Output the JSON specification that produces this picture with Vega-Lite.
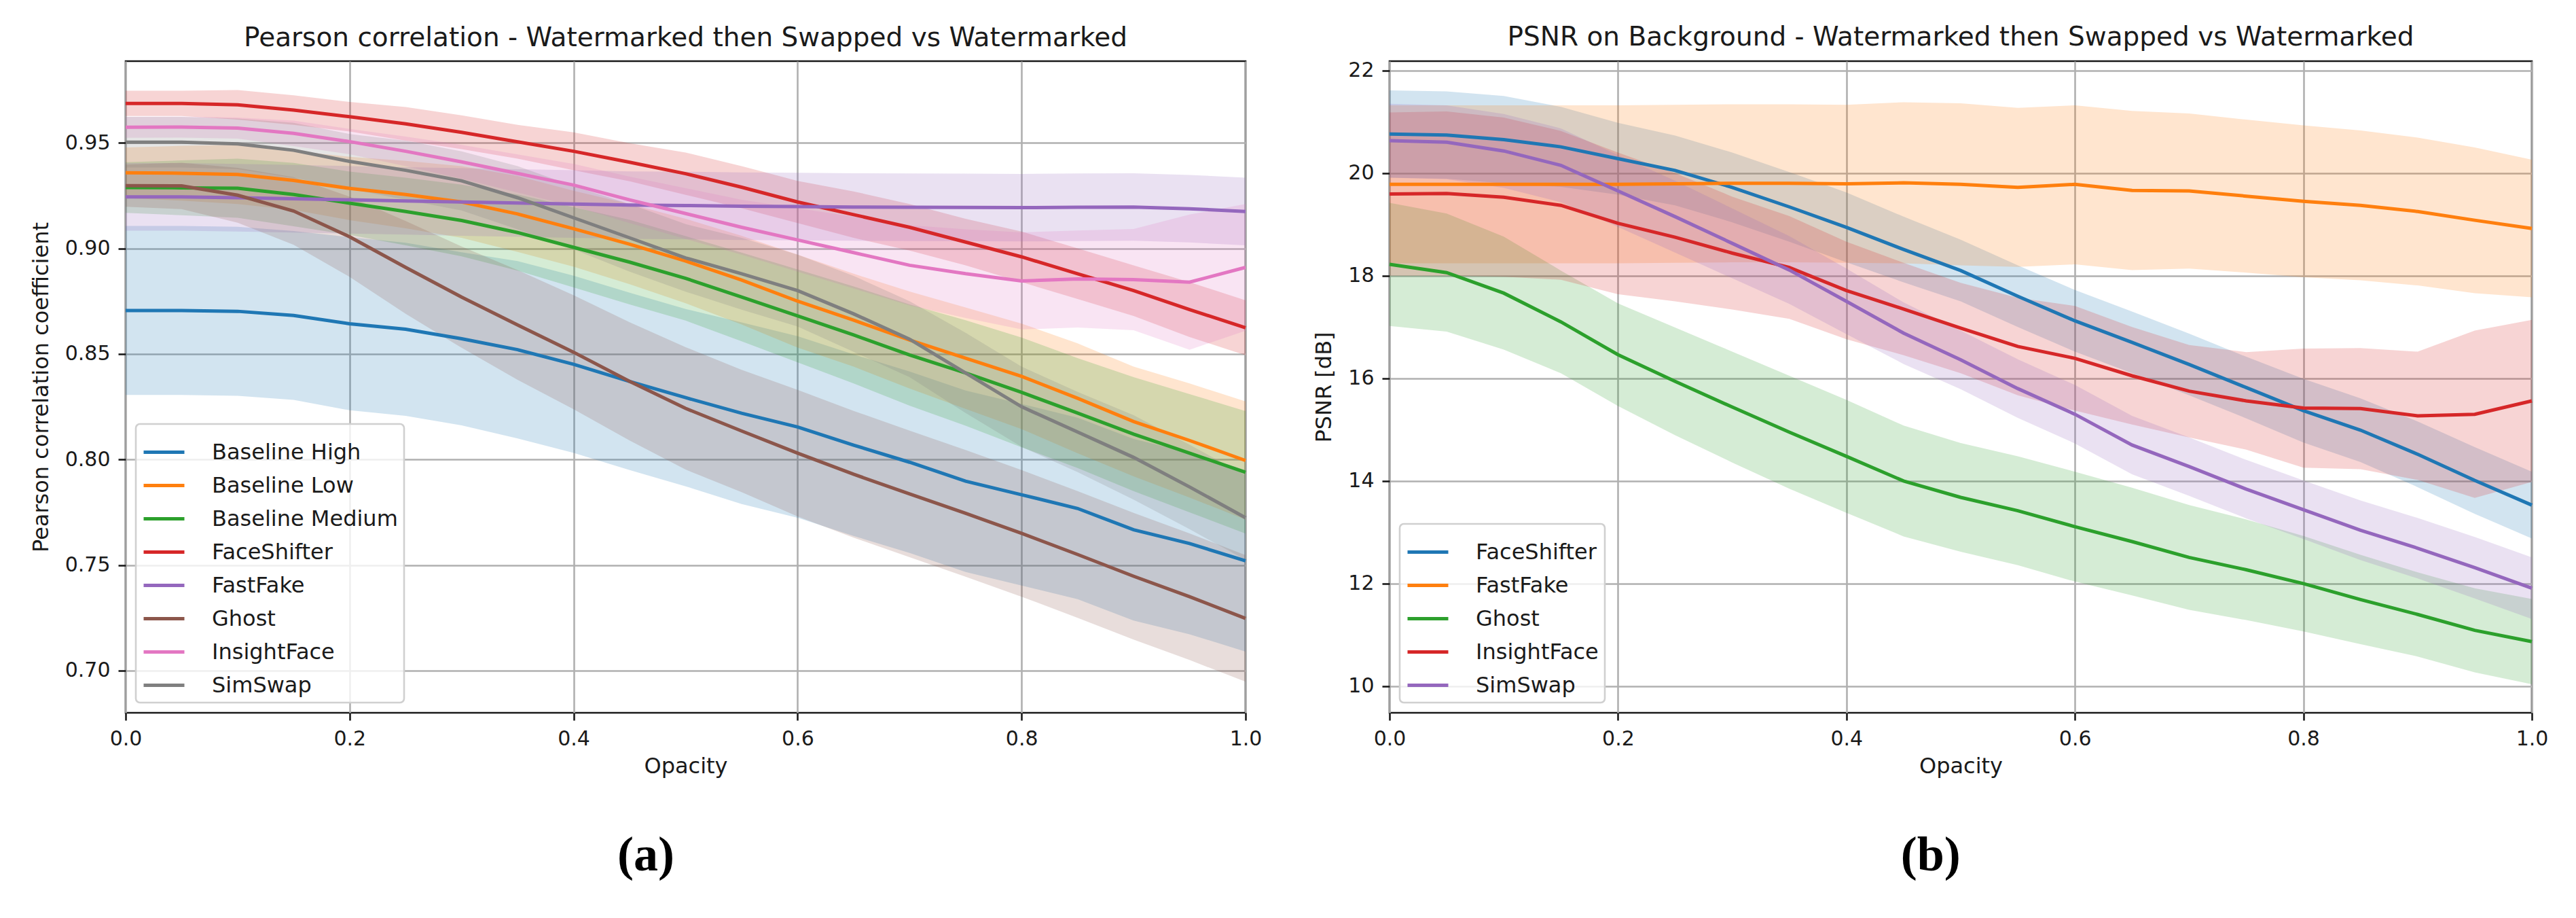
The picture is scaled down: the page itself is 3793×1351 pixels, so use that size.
{
  "$schema": "https://vega.github.io/schema/vega-lite/v6.json",
  "background": "white",
  "padding": {"left": 42, "top": 34, "right": 5, "bottom": 5},
  "spacing": 72,
  "config": {
    "font": "DejaVu Sans",
    "view": {"stroke": "#1a1a1a", "strokeWidth": 2.6},
    "axis": {
      "domain": false, "grid": true, "gridColor": "#b0b0b0", "gridWidth": 2.6,
      "tickColor": "#1a1a1a", "tickWidth": 2.6, "tickSize": 11,
      "labelFont": "DejaVu Sans", "labelFontSize": 30, "labelColor": "#1a1a1a", "labelPadding": 12,
      "labelFlush": false, "labelOverlap": false,
      "titleFont": "DejaVu Sans", "titleFontSize": 32, "titleFontWeight": "normal", "titleColor": "#1a1a1a"
    },
    "axisX": {"titlePadding": 10},
    "axisY": {"titlePadding": 18},
    "legend": {
      "orient": "bottom-left", "offset": 15,
      "fillColor": "rgba(255,255,255,0.8)", "strokeColor": "#d0d0d0", "strokeWidth": 2.6, "cornerRadius": 6,
      "padding": 9, "symbolType": "stroke", "symbolStrokeWidth": 5, "symbolSize": 3600, "symbolOpacity": 1,
      "labelFont": "DejaVu Sans", "labelFontSize": 32, "labelColor": "#1a1a1a", "labelOffset": 38, "labelLimit": 0,
      "rowPadding": -11
    }
  },
  "datasets": {
    "pearson": [
      {"s":"Baseline High","x":0,"y":0.8706,"lo":0.8306,"hi":0.9106},
      {"s":"Baseline High","x":0.05,"y":0.8706,"lo":0.8306,"hi":0.9106},
      {"s":"Baseline High","x":0.1,"y":0.8702,"lo":0.8302,"hi":0.9102},
      {"s":"Baseline High","x":0.15,"y":0.8682,"lo":0.8282,"hi":0.9082},
      {"s":"Baseline High","x":0.2,"y":0.8643,"lo":0.8233,"hi":0.9053},
      {"s":"Baseline High","x":0.25,"y":0.8617,"lo":0.8207,"hi":0.9027},
      {"s":"Baseline High","x":0.3,"y":0.8572,"lo":0.8162,"hi":0.8982},
      {"s":"Baseline High","x":0.35,"y":0.852,"lo":0.81,"hi":0.894},
      {"s":"Baseline High","x":0.4,"y":0.8451,"lo":0.8031,"hi":0.8871},
      {"s":"Baseline High","x":0.45,"y":0.837,"lo":0.795,"hi":0.879},
      {"s":"Baseline High","x":0.5,"y":0.8293,"lo":0.7873,"hi":0.8713},
      {"s":"Baseline High","x":0.55,"y":0.8219,"lo":0.7789,"hi":0.8649},
      {"s":"Baseline High","x":0.6,"y":0.8154,"lo":0.7724,"hi":0.8584},
      {"s":"Baseline High","x":0.65,"y":0.8068,"lo":0.7638,"hi":0.8498},
      {"s":"Baseline High","x":0.7,"y":0.7987,"lo":0.7557,"hi":0.8417},
      {"s":"Baseline High","x":0.75,"y":0.7897,"lo":0.7467,"hi":0.8327},
      {"s":"Baseline High","x":0.8,"y":0.7833,"lo":0.7403,"hi":0.8263},
      {"s":"Baseline High","x":0.85,"y":0.7768,"lo":0.7338,"hi":0.8198},
      {"s":"Baseline High","x":0.9,"y":0.7667,"lo":0.7237,"hi":0.8097},
      {"s":"Baseline High","x":0.95,"y":0.7602,"lo":0.7172,"hi":0.8032},
      {"s":"Baseline High","x":1,"y":0.752,"lo":0.709,"hi":0.795},

      {"s":"Baseline Low","x":0,"y":0.9358,"lo":0.9238,"hi":0.9478},
      {"s":"Baseline Low","x":0.05,"y":0.9356,"lo":0.9226,"hi":0.9486},
      {"s":"Baseline Low","x":0.1,"y":0.935,"lo":0.921,"hi":0.949},
      {"s":"Baseline Low","x":0.15,"y":0.9322,"lo":0.9182,"hi":0.9462},
      {"s":"Baseline Low","x":0.2,"y":0.9284,"lo":0.9134,"hi":0.9434},
      {"s":"Baseline Low","x":0.25,"y":0.9255,"lo":0.9095,"hi":0.9415},
      {"s":"Baseline Low","x":0.3,"y":0.922,"lo":0.905,"hi":0.939},
      {"s":"Baseline Low","x":0.35,"y":0.9163,"lo":0.8983,"hi":0.9343},
      {"s":"Baseline Low","x":0.4,"y":0.9093,"lo":0.8913,"hi":0.9273},
      {"s":"Baseline Low","x":0.45,"y":0.902,"lo":0.883,"hi":0.921},
      {"s":"Baseline Low","x":0.5,"y":0.894,"lo":0.874,"hi":0.914},
      {"s":"Baseline Low","x":0.55,"y":0.885,"lo":0.864,"hi":0.906},
      {"s":"Baseline Low","x":0.6,"y":0.875,"lo":0.853,"hi":0.897},
      {"s":"Baseline Low","x":0.65,"y":0.866,"lo":0.844,"hi":0.888},
      {"s":"Baseline Low","x":0.7,"y":0.8566,"lo":0.8336,"hi":0.8796},
      {"s":"Baseline Low","x":0.75,"y":0.848,"lo":0.824,"hi":0.872},
      {"s":"Baseline Low","x":0.8,"y":0.8394,"lo":0.8144,"hi":0.8644},
      {"s":"Baseline Low","x":0.85,"y":0.829,"lo":0.803,"hi":0.855},
      {"s":"Baseline Low","x":0.9,"y":0.818,"lo":0.792,"hi":0.844},
      {"s":"Baseline Low","x":0.95,"y":0.809,"lo":0.782,"hi":0.836},
      {"s":"Baseline Low","x":1,"y":0.7995,"lo":0.7715,"hi":0.8275},

      {"s":"Baseline Medium","x":0,"y":0.9288,"lo":0.9168,"hi":0.9408},
      {"s":"Baseline Medium","x":0.05,"y":0.9287,"lo":0.9157,"hi":0.9417},
      {"s":"Baseline Medium","x":0.1,"y":0.9285,"lo":0.9145,"hi":0.9425},
      {"s":"Baseline Medium","x":0.15,"y":0.9255,"lo":0.9105,"hi":0.9405},
      {"s":"Baseline Medium","x":0.2,"y":0.9214,"lo":0.9064,"hi":0.9364},
      {"s":"Baseline Medium","x":0.25,"y":0.9175,"lo":0.9015,"hi":0.9335},
      {"s":"Baseline Medium","x":0.3,"y":0.9132,"lo":0.8962,"hi":0.9302},
      {"s":"Baseline Medium","x":0.35,"y":0.9075,"lo":0.8895,"hi":0.9255},
      {"s":"Baseline Medium","x":0.4,"y":0.9005,"lo":0.8815,"hi":0.9195},
      {"s":"Baseline Medium","x":0.45,"y":0.8935,"lo":0.8735,"hi":0.9135},
      {"s":"Baseline Medium","x":0.5,"y":0.8858,"lo":0.8658,"hi":0.9058},
      {"s":"Baseline Medium","x":0.55,"y":0.877,"lo":0.856,"hi":0.898},
      {"s":"Baseline Medium","x":0.6,"y":0.868,"lo":0.846,"hi":0.89},
      {"s":"Baseline Medium","x":0.65,"y":0.859,"lo":0.836,"hi":0.882},
      {"s":"Baseline Medium","x":0.7,"y":0.8495,"lo":0.8255,"hi":0.8735},
      {"s":"Baseline Medium","x":0.75,"y":0.841,"lo":0.816,"hi":0.866},
      {"s":"Baseline Medium","x":0.8,"y":0.8318,"lo":0.8058,"hi":0.8578},
      {"s":"Baseline Medium","x":0.85,"y":0.822,"lo":0.796,"hi":0.848},
      {"s":"Baseline Medium","x":0.9,"y":0.812,"lo":0.785,"hi":0.839},
      {"s":"Baseline Medium","x":0.95,"y":0.803,"lo":0.775,"hi":0.831},
      {"s":"Baseline Medium","x":1,"y":0.7939,"lo":0.7649,"hi":0.8229},

      {"s":"FaceShifter","x":0,"y":0.9687,"lo":0.9627,"hi":0.9747},
      {"s":"FaceShifter","x":0.05,"y":0.9687,"lo":0.9627,"hi":0.9747},
      {"s":"FaceShifter","x":0.1,"y":0.968,"lo":0.961,"hi":0.975},
      {"s":"FaceShifter","x":0.15,"y":0.9655,"lo":0.9585,"hi":0.9725},
      {"s":"FaceShifter","x":0.2,"y":0.9624,"lo":0.9554,"hi":0.9694},
      {"s":"FaceShifter","x":0.25,"y":0.959,"lo":0.951,"hi":0.967},
      {"s":"FaceShifter","x":0.3,"y":0.955,"lo":0.947,"hi":0.963},
      {"s":"FaceShifter","x":0.35,"y":0.9505,"lo":0.9425,"hi":0.9585},
      {"s":"FaceShifter","x":0.4,"y":0.946,"lo":0.937,"hi":0.955},
      {"s":"FaceShifter","x":0.45,"y":0.9408,"lo":0.9318,"hi":0.9498},
      {"s":"FaceShifter","x":0.5,"y":0.9354,"lo":0.9254,"hi":0.9454},
      {"s":"FaceShifter","x":0.55,"y":0.929,"lo":0.919,"hi":0.939},
      {"s":"FaceShifter","x":0.6,"y":0.922,"lo":0.912,"hi":0.932},
      {"s":"FaceShifter","x":0.65,"y":0.916,"lo":0.905,"hi":0.927},
      {"s":"FaceShifter","x":0.7,"y":0.91,"lo":0.899,"hi":0.921},
      {"s":"FaceShifter","x":0.75,"y":0.903,"lo":0.892,"hi":0.914},
      {"s":"FaceShifter","x":0.8,"y":0.896,"lo":0.884,"hi":0.908},
      {"s":"FaceShifter","x":0.85,"y":0.888,"lo":0.876,"hi":0.9},
      {"s":"FaceShifter","x":0.9,"y":0.88,"lo":0.868,"hi":0.892},
      {"s":"FaceShifter","x":0.95,"y":0.871,"lo":0.858,"hi":0.884},
      {"s":"FaceShifter","x":1,"y":0.8624,"lo":0.8494,"hi":0.8754},

      {"s":"FastFake","x":0,"y":0.9244,"lo":0.9084,"hi":0.9404},
      {"s":"FastFake","x":0.05,"y":0.9244,"lo":0.9084,"hi":0.9404},
      {"s":"FastFake","x":0.1,"y":0.924,"lo":0.908,"hi":0.94},
      {"s":"FastFake","x":0.15,"y":0.9235,"lo":0.9075,"hi":0.9395},
      {"s":"FastFake","x":0.2,"y":0.923,"lo":0.907,"hi":0.939},
      {"s":"FastFake","x":0.25,"y":0.9225,"lo":0.9065,"hi":0.9385},
      {"s":"FastFake","x":0.3,"y":0.922,"lo":0.906,"hi":0.938},
      {"s":"FastFake","x":0.35,"y":0.9215,"lo":0.9055,"hi":0.9375},
      {"s":"FastFake","x":0.4,"y":0.921,"lo":0.905,"hi":0.937},
      {"s":"FastFake","x":0.45,"y":0.9205,"lo":0.9045,"hi":0.9365},
      {"s":"FastFake","x":0.5,"y":0.9203,"lo":0.9043,"hi":0.9363},
      {"s":"FastFake","x":0.55,"y":0.92,"lo":0.904,"hi":0.936},
      {"s":"FastFake","x":0.6,"y":0.9198,"lo":0.9038,"hi":0.9358},
      {"s":"FastFake","x":0.65,"y":0.9196,"lo":0.9036,"hi":0.9356},
      {"s":"FastFake","x":0.7,"y":0.9195,"lo":0.9035,"hi":0.9355},
      {"s":"FastFake","x":0.75,"y":0.9194,"lo":0.9034,"hi":0.9354},
      {"s":"FastFake","x":0.8,"y":0.9193,"lo":0.9033,"hi":0.9353},
      {"s":"FastFake","x":0.85,"y":0.9195,"lo":0.9035,"hi":0.9355},
      {"s":"FastFake","x":0.9,"y":0.9196,"lo":0.9036,"hi":0.9356},
      {"s":"FastFake","x":0.95,"y":0.9188,"lo":0.9028,"hi":0.9348},
      {"s":"FastFake","x":1,"y":0.9175,"lo":0.9015,"hi":0.9335},

      {"s":"Ghost","x":0,"y":0.9297,"lo":0.9197,"hi":0.9397},
      {"s":"Ghost","x":0.05,"y":0.9296,"lo":0.9186,"hi":0.9406},
      {"s":"Ghost","x":0.1,"y":0.9252,"lo":0.9122,"hi":0.9382},
      {"s":"Ghost","x":0.15,"y":0.9177,"lo":0.9017,"hi":0.9337},
      {"s":"Ghost","x":0.2,"y":0.9055,"lo":0.8865,"hi":0.9245},
      {"s":"Ghost","x":0.25,"y":0.891,"lo":0.869,"hi":0.913},
      {"s":"Ghost","x":0.3,"y":0.8769,"lo":0.8529,"hi":0.9009},
      {"s":"Ghost","x":0.35,"y":0.8637,"lo":0.8377,"hi":0.8897},
      {"s":"Ghost","x":0.4,"y":0.8508,"lo":0.8238,"hi":0.8778},
      {"s":"Ghost","x":0.45,"y":0.837,"lo":0.809,"hi":0.865},
      {"s":"Ghost","x":0.5,"y":0.8242,"lo":0.7952,"hi":0.8532},
      {"s":"Ghost","x":0.55,"y":0.8135,"lo":0.7845,"hi":0.8425},
      {"s":"Ghost","x":0.6,"y":0.803,"lo":0.773,"hi":0.833},
      {"s":"Ghost","x":0.65,"y":0.793,"lo":0.763,"hi":0.823},
      {"s":"Ghost","x":0.7,"y":0.7837,"lo":0.7537,"hi":0.8137},
      {"s":"Ghost","x":0.75,"y":0.7745,"lo":0.7445,"hi":0.8045},
      {"s":"Ghost","x":0.8,"y":0.765,"lo":0.735,"hi":0.795},
      {"s":"Ghost","x":0.85,"y":0.755,"lo":0.725,"hi":0.785},
      {"s":"Ghost","x":0.9,"y":0.7447,"lo":0.7147,"hi":0.7747},
      {"s":"Ghost","x":0.95,"y":0.735,"lo":0.705,"hi":0.765},
      {"s":"Ghost","x":1,"y":0.7247,"lo":0.6947,"hi":0.7547},

      {"s":"InsightFace","x":0,"y":0.9574,"lo":0.9524,"hi":0.9624},
      {"s":"InsightFace","x":0.05,"y":0.9575,"lo":0.9525,"hi":0.9625},
      {"s":"InsightFace","x":0.1,"y":0.957,"lo":0.952,"hi":0.962},
      {"s":"InsightFace","x":0.15,"y":0.9545,"lo":0.9485,"hi":0.9605},
      {"s":"InsightFace","x":0.2,"y":0.9506,"lo":0.9446,"hi":0.9566},
      {"s":"InsightFace","x":0.25,"y":0.946,"lo":0.939,"hi":0.953},
      {"s":"InsightFace","x":0.3,"y":0.941,"lo":0.933,"hi":0.949},
      {"s":"InsightFace","x":0.35,"y":0.9355,"lo":0.9265,"hi":0.9445},
      {"s":"InsightFace","x":0.4,"y":0.93,"lo":0.92,"hi":0.94},
      {"s":"InsightFace","x":0.45,"y":0.923,"lo":0.912,"hi":0.934},
      {"s":"InsightFace","x":0.5,"y":0.9165,"lo":0.9045,"hi":0.9285},
      {"s":"InsightFace","x":0.55,"y":0.91,"lo":0.897,"hi":0.923},
      {"s":"InsightFace","x":0.6,"y":0.904,"lo":0.889,"hi":0.919},
      {"s":"InsightFace","x":0.65,"y":0.898,"lo":0.881,"hi":0.915},
      {"s":"InsightFace","x":0.7,"y":0.892,"lo":0.873,"hi":0.911},
      {"s":"InsightFace","x":0.75,"y":0.888,"lo":0.867,"hi":0.909},
      {"s":"InsightFace","x":0.8,"y":0.8846,"lo":0.8616,"hi":0.9076},
      {"s":"InsightFace","x":0.85,"y":0.8855,"lo":0.8625,"hi":0.9085},
      {"s":"InsightFace","x":0.9,"y":0.8852,"lo":0.8612,"hi":0.9092},
      {"s":"InsightFace","x":0.95,"y":0.884,"lo":0.852,"hi":0.916},
      {"s":"InsightFace","x":1,"y":0.891,"lo":0.861,"hi":0.921},

      {"s":"SimSwap","x":0,"y":0.9503,"lo":0.9383,"hi":0.9623},
      {"s":"SimSwap","x":0.05,"y":0.9503,"lo":0.9383,"hi":0.9623},
      {"s":"SimSwap","x":0.1,"y":0.9495,"lo":0.9375,"hi":0.9615},
      {"s":"SimSwap","x":0.15,"y":0.9465,"lo":0.9335,"hi":0.9595},
      {"s":"SimSwap","x":0.2,"y":0.9412,"lo":0.9282,"hi":0.9542},
      {"s":"SimSwap","x":0.25,"y":0.937,"lo":0.923,"hi":0.951},
      {"s":"SimSwap","x":0.3,"y":0.932,"lo":0.918,"hi":0.946},
      {"s":"SimSwap","x":0.35,"y":0.924,"lo":0.909,"hi":0.939},
      {"s":"SimSwap","x":0.4,"y":0.9145,"lo":0.8995,"hi":0.9295},
      {"s":"SimSwap","x":0.45,"y":0.905,"lo":0.889,"hi":0.921},
      {"s":"SimSwap","x":0.5,"y":0.8955,"lo":0.8795,"hi":0.9115},
      {"s":"SimSwap","x":0.55,"y":0.888,"lo":0.871,"hi":0.905},
      {"s":"SimSwap","x":0.6,"y":0.88,"lo":0.863,"hi":0.897},
      {"s":"SimSwap","x":0.65,"y":0.869,"lo":0.851,"hi":0.887},
      {"s":"SimSwap","x":0.7,"y":0.857,"lo":0.839,"hi":0.875},
      {"s":"SimSwap","x":0.75,"y":0.841,"lo":0.822,"hi":0.86},
      {"s":"SimSwap","x":0.8,"y":0.825,"lo":0.806,"hi":0.844},
      {"s":"SimSwap","x":0.85,"y":0.813,"lo":0.794,"hi":0.832},
      {"s":"SimSwap","x":0.9,"y":0.801,"lo":0.781,"hi":0.821},
      {"s":"SimSwap","x":0.95,"y":0.787,"lo":0.767,"hi":0.807},
      {"s":"SimSwap","x":1,"y":0.7724,"lo":0.7524,"hi":0.7924}
    ],
    "psnr": [
      {"s":"FaceShifter","x":0,"y":20.76,"lo":19.91,"hi":21.61},
      {"s":"FaceShifter","x":0.05,"y":20.74,"lo":19.89,"hi":21.59},
      {"s":"FaceShifter","x":0.1,"y":20.65,"lo":19.8,"hi":21.5},
      {"s":"FaceShifter","x":0.15,"y":20.51,"lo":19.73,"hi":21.29},
      {"s":"FaceShifter","x":0.2,"y":20.28,"lo":19.58,"hi":20.98},
      {"s":"FaceShifter","x":0.25,"y":20.05,"lo":19.37,"hi":20.73},
      {"s":"FaceShifter","x":0.3,"y":19.72,"lo":19.04,"hi":20.4},
      {"s":"FaceShifter","x":0.35,"y":19.34,"lo":18.66,"hi":20.02},
      {"s":"FaceShifter","x":0.4,"y":18.94,"lo":18.26,"hi":19.62},
      {"s":"FaceShifter","x":0.45,"y":18.51,"lo":17.87,"hi":19.15},
      {"s":"FaceShifter","x":0.5,"y":18.1,"lo":17.5,"hi":18.7},
      {"s":"FaceShifter","x":0.55,"y":17.6,"lo":17.0,"hi":18.2},
      {"s":"FaceShifter","x":0.6,"y":17.12,"lo":16.52,"hi":17.72},
      {"s":"FaceShifter","x":0.65,"y":16.7,"lo":16.1,"hi":17.3},
      {"s":"FaceShifter","x":0.7,"y":16.27,"lo":15.67,"hi":16.87},
      {"s":"FaceShifter","x":0.75,"y":15.82,"lo":15.22,"hi":16.42},
      {"s":"FaceShifter","x":0.8,"y":15.37,"lo":14.75,"hi":15.99},
      {"s":"FaceShifter","x":0.85,"y":14.99,"lo":14.37,"hi":15.61},
      {"s":"FaceShifter","x":0.9,"y":14.52,"lo":13.88,"hi":15.16},
      {"s":"FaceShifter","x":0.95,"y":14.01,"lo":13.36,"hi":14.66},
      {"s":"FaceShifter","x":1,"y":13.53,"lo":12.88,"hi":14.18},

      {"s":"FastFake","x":0,"y":19.78,"lo":18.24,"hi":21.32},
      {"s":"FastFake","x":0.05,"y":19.78,"lo":18.24,"hi":21.32},
      {"s":"FastFake","x":0.1,"y":19.78,"lo":18.24,"hi":21.32},
      {"s":"FastFake","x":0.15,"y":19.78,"lo":18.24,"hi":21.32},
      {"s":"FastFake","x":0.2,"y":19.78,"lo":18.24,"hi":21.32},
      {"s":"FastFake","x":0.25,"y":19.79,"lo":18.25,"hi":21.33},
      {"s":"FastFake","x":0.3,"y":19.8,"lo":18.26,"hi":21.34},
      {"s":"FastFake","x":0.35,"y":19.8,"lo":18.26,"hi":21.34},
      {"s":"FastFake","x":0.4,"y":19.79,"lo":18.25,"hi":21.33},
      {"s":"FastFake","x":0.45,"y":19.81,"lo":18.24,"hi":21.38},
      {"s":"FastFake","x":0.5,"y":19.78,"lo":18.2,"hi":21.36},
      {"s":"FastFake","x":0.55,"y":19.72,"lo":18.17,"hi":21.27},
      {"s":"FastFake","x":0.6,"y":19.78,"lo":18.22,"hi":21.32},
      {"s":"FastFake","x":0.65,"y":19.66,"lo":18.11,"hi":21.21},
      {"s":"FastFake","x":0.7,"y":19.65,"lo":18.14,"hi":21.16},
      {"s":"FastFake","x":0.75,"y":19.55,"lo":18.06,"hi":21.04},
      {"s":"FastFake","x":0.8,"y":19.45,"lo":17.97,"hi":20.93},
      {"s":"FastFake","x":0.85,"y":19.37,"lo":17.91,"hi":20.83},
      {"s":"FastFake","x":0.9,"y":19.25,"lo":17.81,"hi":20.69},
      {"s":"FastFake","x":0.95,"y":19.08,"lo":17.66,"hi":20.5},
      {"s":"FastFake","x":1,"y":18.92,"lo":17.58,"hi":20.26},

      {"s":"Ghost","x":0,"y":18.22,"lo":17.02,"hi":19.42},
      {"s":"Ghost","x":0.05,"y":18.06,"lo":16.91,"hi":19.21},
      {"s":"Ghost","x":0.1,"y":17.66,"lo":16.56,"hi":18.76},
      {"s":"Ghost","x":0.15,"y":17.1,"lo":16.1,"hi":18.1},
      {"s":"Ghost","x":0.2,"y":16.46,"lo":15.46,"hi":17.46},
      {"s":"Ghost","x":0.25,"y":15.94,"lo":14.89,"hi":16.99},
      {"s":"Ghost","x":0.3,"y":15.44,"lo":14.36,"hi":16.52},
      {"s":"Ghost","x":0.35,"y":14.95,"lo":13.85,"hi":16.05},
      {"s":"Ghost","x":0.4,"y":14.48,"lo":13.38,"hi":15.58},
      {"s":"Ghost","x":0.45,"y":14.0,"lo":12.92,"hi":15.08},
      {"s":"Ghost","x":0.5,"y":13.68,"lo":12.62,"hi":14.74},
      {"s":"Ghost","x":0.55,"y":13.42,"lo":12.36,"hi":14.48},
      {"s":"Ghost","x":0.6,"y":13.11,"lo":12.04,"hi":14.18},
      {"s":"Ghost","x":0.65,"y":12.82,"lo":11.77,"hi":13.87},
      {"s":"Ghost","x":0.7,"y":12.51,"lo":11.49,"hi":13.53},
      {"s":"Ghost","x":0.75,"y":12.27,"lo":11.29,"hi":13.25},
      {"s":"Ghost","x":0.8,"y":12.0,"lo":11.07,"hi":12.93},
      {"s":"Ghost","x":0.85,"y":11.69,"lo":10.82,"hi":12.56},
      {"s":"Ghost","x":0.9,"y":11.4,"lo":10.58,"hi":12.22},
      {"s":"Ghost","x":0.95,"y":11.09,"lo":10.27,"hi":11.91},
      {"s":"Ghost","x":1,"y":10.87,"lo":10.04,"hi":11.7},

      {"s":"InsightFace","x":0,"y":19.59,"lo":18.0,"hi":21.18},
      {"s":"InsightFace","x":0.05,"y":19.6,"lo":18.0,"hi":21.2},
      {"s":"InsightFace","x":0.1,"y":19.53,"lo":17.98,"hi":21.08},
      {"s":"InsightFace","x":0.15,"y":19.37,"lo":17.92,"hi":20.82},
      {"s":"InsightFace","x":0.2,"y":19.02,"lo":17.64,"hi":20.4},
      {"s":"InsightFace","x":0.25,"y":18.75,"lo":17.5,"hi":20.0},
      {"s":"InsightFace","x":0.3,"y":18.44,"lo":17.34,"hi":19.54},
      {"s":"InsightFace","x":0.35,"y":18.16,"lo":17.16,"hi":19.16},
      {"s":"InsightFace","x":0.4,"y":17.71,"lo":16.76,"hi":18.66},
      {"s":"InsightFace","x":0.45,"y":17.35,"lo":16.45,"hi":18.25},
      {"s":"InsightFace","x":0.5,"y":16.98,"lo":16.1,"hi":17.86},
      {"s":"InsightFace","x":0.55,"y":16.62,"lo":15.67,"hi":17.57},
      {"s":"InsightFace","x":0.6,"y":16.39,"lo":15.37,"hi":17.41},
      {"s":"InsightFace","x":0.65,"y":16.05,"lo":15.1,"hi":17.0},
      {"s":"InsightFace","x":0.7,"y":15.75,"lo":14.85,"hi":16.65},
      {"s":"InsightFace","x":0.75,"y":15.56,"lo":14.61,"hi":16.51},
      {"s":"InsightFace","x":0.8,"y":15.42,"lo":14.26,"hi":16.58},
      {"s":"InsightFace","x":0.85,"y":15.41,"lo":14.23,"hi":16.59},
      {"s":"InsightFace","x":0.9,"y":15.27,"lo":14.02,"hi":16.52},
      {"s":"InsightFace","x":0.95,"y":15.3,"lo":13.67,"hi":16.93},
      {"s":"InsightFace","x":1,"y":15.56,"lo":13.98,"hi":17.14},

      {"s":"SimSwap","x":0,"y":20.63,"lo":19.91,"hi":21.35},
      {"s":"SimSwap","x":0.05,"y":20.6,"lo":19.88,"hi":21.32},
      {"s":"SimSwap","x":0.1,"y":20.43,"lo":19.71,"hi":21.15},
      {"s":"SimSwap","x":0.15,"y":20.15,"lo":19.43,"hi":20.87},
      {"s":"SimSwap","x":0.2,"y":19.65,"lo":18.95,"hi":20.35},
      {"s":"SimSwap","x":0.25,"y":19.15,"lo":18.45,"hi":19.85},
      {"s":"SimSwap","x":0.3,"y":18.63,"lo":17.95,"hi":19.31},
      {"s":"SimSwap","x":0.35,"y":18.11,"lo":17.45,"hi":18.77},
      {"s":"SimSwap","x":0.4,"y":17.5,"lo":16.86,"hi":18.14},
      {"s":"SimSwap","x":0.45,"y":16.88,"lo":16.28,"hi":17.48},
      {"s":"SimSwap","x":0.5,"y":16.36,"lo":15.79,"hi":16.93},
      {"s":"SimSwap","x":0.55,"y":15.8,"lo":15.23,"hi":16.37},
      {"s":"SimSwap","x":0.6,"y":15.3,"lo":14.73,"hi":15.87},
      {"s":"SimSwap","x":0.65,"y":14.7,"lo":14.13,"hi":15.27},
      {"s":"SimSwap","x":0.7,"y":14.28,"lo":13.71,"hi":14.85},
      {"s":"SimSwap","x":0.75,"y":13.84,"lo":13.27,"hi":14.41},
      {"s":"SimSwap","x":0.8,"y":13.44,"lo":12.87,"hi":14.01},
      {"s":"SimSwap","x":0.85,"y":13.04,"lo":12.46,"hi":13.62},
      {"s":"SimSwap","x":0.9,"y":12.69,"lo":12.1,"hi":13.28},
      {"s":"SimSwap","x":0.95,"y":12.31,"lo":11.71,"hi":12.91},
      {"s":"SimSwap","x":1,"y":11.91,"lo":11.31,"hi":12.51}
    ]
  },
  "hconcat": [
    {
      "title": {"text": "(a)", "orient": "bottom", "anchor": "middle", "frame": "bounds", "font": "Liberation Serif", "fontSize": 72, "fontWeight": "bold", "color": "#000", "offset": 80},
      "resolve": {"scale": {"color": "independent"}, "legend": {"color": "independent"}},
      "vconcat": [
        {
          "title": {"text": "Pearson correlation - Watermarked then Swapped vs Watermarked", "font": "DejaVu Sans", "fontSize": 39, "fontWeight": "normal", "color": "#1a1a1a", "anchor": "middle", "frame": "group", "offset": 14},
          "width": 1649,
          "height": 959,
          "data": {"name": "pearson"},
          "encoding": {
            "color": {"field": "s", "type": "nominal", "legend": {"title": null},
                      "scale": {"domain": ["Baseline High", "Baseline Low", "Baseline Medium", "FaceShifter", "FastFake", "Ghost", "InsightFace", "SimSwap"],
                                "range": ["#1f77b4", "#ff7f0e", "#2ca02c", "#d62728", "#9467bd", "#8c564b", "#e377c2", "#7f7f7f"]}}
          },
          "layer": [
            {
              "mark": {"type": "area", "opacity": 0.2},
              "encoding": {
                "x": {"field": "x", "type": "quantitative", "scale": {"domain": [0, 1], "nice": false},
                      "axis": {"values": [0, 0.2, 0.4, 0.6, 0.8, 1], "format": ".1f", "title": "Opacity"}},
                "y": {"field": "lo", "type": "quantitative", "scale": {"domain": [0.68, 0.9887], "nice": false, "zero": false},
                      "axis": {"values": [0.7, 0.75, 0.8, 0.85, 0.9, 0.95], "format": ".2f", "title": "Pearson correlation coefficient"}},
                "y2": {"field": "hi"}
              }
            },
            {
              "mark": {"type": "line", "strokeWidth": 5},
              "encoding": {
                "x": {"field": "x", "type": "quantitative"},
                "y": {"field": "y", "type": "quantitative"}
              }
            }
          ]
        }
      ]
    },
    {
      "title": {"text": "(b)", "orient": "bottom", "anchor": "middle", "frame": "bounds", "font": "Liberation Serif", "fontSize": 72, "fontWeight": "bold", "color": "#000", "offset": 80},
      "resolve": {"scale": {"color": "independent"}, "legend": {"color": "independent"}},
      "vconcat": [
        {
          "title": {"text": "PSNR on Background - Watermarked then Swapped vs Watermarked", "font": "DejaVu Sans", "fontSize": 39, "fontWeight": "normal", "color": "#1a1a1a", "anchor": "middle", "frame": "group", "offset": 14},
          "width": 1682,
          "height": 959,
          "data": {"name": "psnr"},
          "encoding": {
            "color": {"field": "s", "type": "nominal", "legend": {"title": null},
                      "scale": {"domain": ["FaceShifter", "FastFake", "Ghost", "InsightFace", "SimSwap"],
                                "range": ["#1f77b4", "#ff7f0e", "#2ca02c", "#d62728", "#9467bd"]}}
          },
          "layer": [
            {
              "mark": {"type": "area", "opacity": 0.2},
              "encoding": {
                "x": {"field": "x", "type": "quantitative", "scale": {"domain": [0, 1], "nice": false},
                      "axis": {"values": [0, 0.2, 0.4, 0.6, 0.8, 1], "format": ".1f", "title": "Opacity"}},
                "y": {"field": "lo", "type": "quantitative", "scale": {"domain": [9.483, 22.18], "nice": false, "zero": false},
                      "axis": {"values": [10, 12, 14, 16, 18, 20, 22], "format": "d", "title": "PSNR [dB]"}},
                "y2": {"field": "hi"}
              }
            },
            {
              "mark": {"type": "line", "strokeWidth": 5},
              "encoding": {
                "x": {"field": "x", "type": "quantitative"},
                "y": {"field": "y", "type": "quantitative"}
              }
            }
          ]
        }
      ]
    }
  ],
  "resolve": {"scale": {"color": "independent"}, "legend": {"color": "independent"}}
}
